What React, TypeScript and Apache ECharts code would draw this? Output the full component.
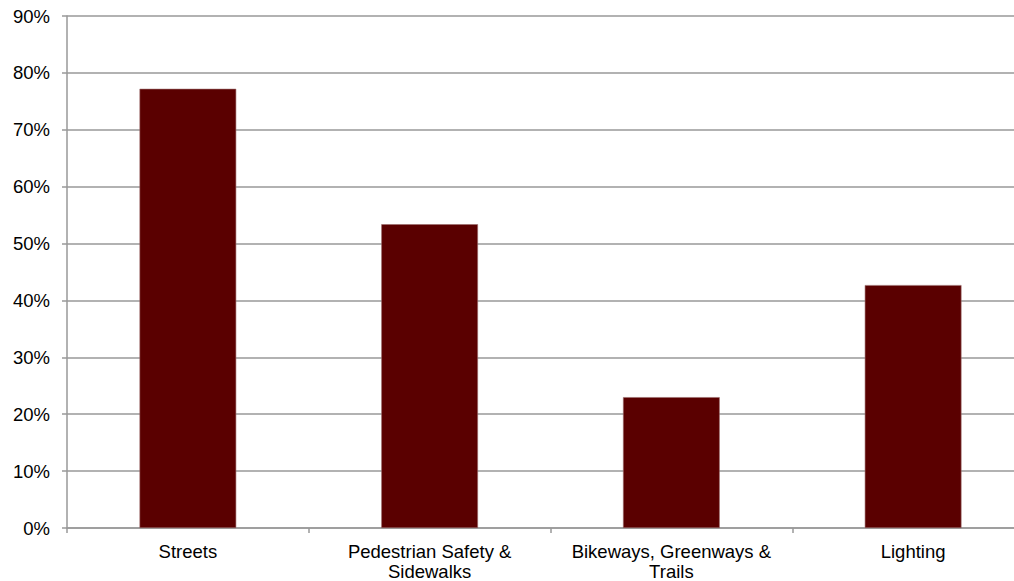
import React, { useEffect, useRef } from "react";
import * as echarts from "echarts";

const categories = ["Streets", "Pedestrian Safety &\nSidewalks", "Bikeways, Greenways &\nTrails", "Lighting"];
const values = [77.2, 53.4, 23.0, 42.7];
const yTicks = { min: 0, max: 90, interval: 10 };

export default function App() {
  const ref = useRef<HTMLDivElement>(null);
  useEffect(() => {
    const chart = echarts.init(ref.current!, null, { renderer: "svg" });
    chart.setOption({
      animation: false,
      backgroundColor: "#ffffff",
      textStyle: { fontFamily: "Liberation Sans, Arial, sans-serif" },
      grid: { left: 67, width: 967, top: 16, height: 512, containLabel: false, outerBoundsMode: "none" },
      xAxis: {
        type: "category",
        data: categories,
        axisLine: { show: true, lineStyle: { color: "#999999", width: 1.5 } },
        axisTick: { show: true, length: 5, lineStyle: { color: "#999999", width: 1.5 }, alignWithLabel: false },
        axisLabel: { color: "#000000", fontSize: 18.5, lineHeight: 20, margin: 13, interval: 0 },
      },
      yAxis: {
        type: "value",
        min: yTicks.min,
        max: yTicks.max,
        interval: yTicks.interval,
        axisLine: { show: true, lineStyle: { color: "#999999", width: 1.5 } },
        axisTick: { show: true, length: 5, lineStyle: { color: "#999999", width: 1.5 } },
        splitLine: { show: true, lineStyle: { color: "#999999", width: 1.5 } },
        axisLabel: { color: "#000000", fontSize: 18.5, margin: 17, formatter: (v: number) => `${v}%` },
      },
      series: [
        {
          type: "bar",
          data: values,
          barWidth: "40%",
          itemStyle: { color: "#5a0000", borderColor: "#9a6a6a", borderWidth: 0.6 },
        },
      ],
    });
    return () => chart.dispose();
  }, []);
  return <div ref={ref} style={{ position: "fixed", left: 0, top: 0, width: 1014, height: 581 }} />;
}
